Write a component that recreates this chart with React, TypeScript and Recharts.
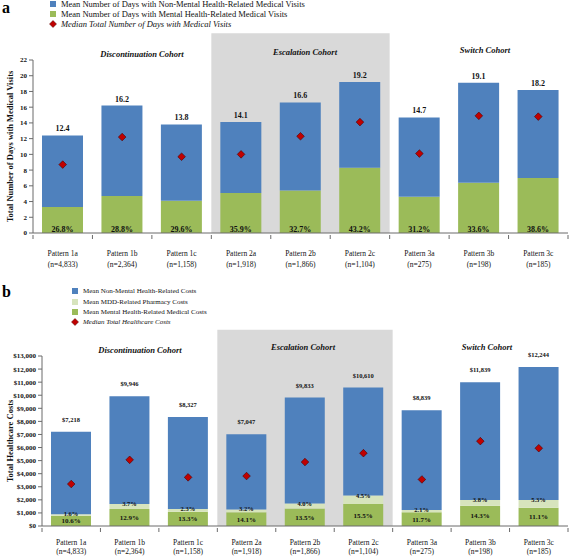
import React from 'react';
import { ComposedChart, Bar, Line, XAxis, YAxis, ReferenceArea, LabelList } from 'recharts';

const SERIF = '"Liberation Serif", "Times New Roman", serif';
const BLUE = '#4F81BD';
const GREEN = '#9BBB59';
const PALE = '#D7E4BD';
const RED = '#C00000';
const AXIS = '#6b6b6b';
const SHADE = '#D9D9D9';

const patterns = ['Pattern 1a', 'Pattern 1b', 'Pattern 1c', 'Pattern 2a', 'Pattern 2b', 'Pattern 2c', 'Pattern 3a', 'Pattern 3b', 'Pattern 3c'];
const sampleSizes = ['(n=4,833)', '(n=2,364)', '(n=1,158)', '(n=1,918)', '(n=1,866)', '(n=1,104)', '(n=275)', '(n=198)', '(n=185)'];

// panel a - days with medical visits
const visitTotals = ['12.4', '16.2', '13.8', '14.1', '16.6', '19.2', '14.7', '19.1', '18.2'];
const visitsMental = [3.3, 4.7, 4.1, 5.1, 5.4, 8.3, 4.6, 6.4, 7.0];
const visitsNonMental = [9.1, 11.5, 9.7, 9.0, 11.2, 10.9, 10.1, 12.7, 11.2];
const visitsMedian = [8.7, 12.2, 9.7, 10.0, 12.3, 14.1, 10.1, 14.9, 14.8];
const visitsMentalPct = ['26.8%', '28.8%', '29.6%', '35.9%', '32.7%', '43.2%', '31.2%', '33.6%', '38.6%'];
const dayTicks = [0, 2, 4, 6, 8, 10, 12, 14, 16, 18, 20, 22];

// panel b - healthcare costs
const costTotals = ['$7,218', '$9,946', '$8,327', '$7,047', '$9,833', '$10,610', '$8,839', '$11,839', '$12,244'];
const costMental = [790, 1300, 1090, 1050, 1330, 1680, 1050, 1550, 1400];
const costPharmacy = [100, 380, 210, 220, 390, 650, 170, 430, 580];
const costNonMental = [6310, 8240, 7040, 5750, 8100, 8260, 7630, 9020, 10180];
const costMedian = [3210, 5060, 3720, 3820, 4890, 5570, 3560, 6490, 5950];
const costMentalPct = ['10.6%', '12.9%', '13.3%', '14.1%', '13.5%', '15.5%', '11.7%', '14.3%', '11.1%'];
const costPharmacyPct = ['1.6%', '3.7%', '2.3%', '3.2%', '4.0%', '4.5%', '2.1%', '3.8%', '5.3%'];
const costTicks = [0, 1000, 2000, 3000, 4000, 5000, 6000, 7000, 8000, 9000, 10000, 11000, 12000, 13000];

const visitSeries = ['Mean Number of Days with Non-Mental Health-Related Medical Visits', 'Mean Number of Days with Mental Health-Related Medical Visits', 'Median Total Number of Days with Medical Visits'];
const costSeries = ['Mean Non-Mental Health-Related Costs', 'Mean MDD-Related Pharmacy Costs', 'Mean Mental Health-Related Medical Costs', 'Median Total Healthcare Costs'];

const visitsData = patterns.map((pattern, i) => ({
  pattern,
  mental: visitsMental[i],
  nonMental: visitsNonMental[i],
  median: visitsMedian[i],
  totalLabel: visitTotals[i],
  pctLabel: visitsMentalPct[i],
}));

const costData = patterns.map((pattern, i) => ({
  pattern,
  mental: costMental[i],
  pharmacy: costPharmacy[i],
  nonMental: costNonMental[i],
  median: costMedian[i],
  totalLabel: costTotals[i],
  mentalPct: costMentalPct[i],
  pharmacyPct: costPharmacyPct[i],
}));

const Diamond = (props: any) => {
  const { cx, cy } = props;
  if (cx == null || cy == null) return null;
  const r = 3.8;
  return (
    <path
      d={`M${cx},${cy - r} L${cx + r},${cy} L${cx},${cy + r} L${cx - r},${cy} Z`}
      fill={RED}
      stroke="#4a0000"
      strokeWidth={0.6}
    />
  );
};

const makeTick = (band: number, line1: number, line2: number) => (props: any) => {
  const { x, y, payload } = props;
  const idx = patterns.indexOf(payload.value);
  return (
    <g>
      <line x1={x - band / 2} x2={x - band / 2} y1={y} y2={y + 4} stroke={AXIS} />
      {idx === patterns.length - 1 && <line x1={x + band / 2} x2={x + band / 2} y1={y} y2={y + 4} stroke={AXIS} />}
      <text x={x} y={y + line1} textAnchor="middle" dominantBaseline="central" fontFamily={SERIF} fontSize={7.5} fill="#111">
        {payload.value}
      </text>
      <text x={x} y={y + line2} textAnchor="middle" dominantBaseline="central" fontFamily={SERIF} fontSize={7.5} fill="#111">
        {sampleSizes[idx]}
      </text>
    </g>
  );
};

const AxisTitle = (props: any) => {
  const { viewBox, value, dx } = props;
  const cx = viewBox.x + dx;
  const cy = viewBox.y + viewBox.height / 2;
  return (
    <text
      x={cx}
      y={cy}
      transform={`rotate(-90 ${cx} ${cy})`}
      textAnchor="middle"
      dominantBaseline="central"
      fontFamily={SERIF}
      fontWeight="bold"
      fontSize={8.5}
      fill="#111"
    >
      {value}
    </text>
  );
};

const tickStyle = { fontFamily: SERIF, fontWeight: 'bold' as const, fontSize: 7, fill: '#111' };
const labelStyle = { fontFamily: SERIF, fontWeight: 'bold', fill: '#111' };

const cohortStyle: React.CSSProperties = {
  position: 'absolute',
  transform: 'translate(-50%, -50%)',
  fontFamily: SERIF,
  fontWeight: 'bold',
  fontStyle: 'italic',
  fontSize: 8.5,
  whiteSpace: 'nowrap',
  color: '#111',
};

const panelLetter: React.CSSProperties = {
  position: 'absolute',
  left: 2,
  fontFamily: SERIF,
  fontWeight: 'bold',
  fontSize: 16,
  lineHeight: '16px',
};

const LegendRow = ({ top, left, fontSize, marker, label, italic }: any) => (
  <div style={{ position: 'absolute', top, left, display: 'flex', alignItems: 'center', height: 10, whiteSpace: 'nowrap' }}>
    <svg width={10} height={10} style={{ marginRight: 3 }}>
      {marker === 'diamond' ? (
        <path d="M5,1.5 L8.5,5 L5,8.5 L1.5,5 Z" fill={RED} stroke="#4a0000" strokeWidth={0.5} />
      ) : (
        <rect x={2} y={2} width={6} height={6} fill={marker} />
      )}
    </svg>
    <span style={{ fontFamily: SERIF, fontSize, fontStyle: italic ? 'italic' : 'normal', color: '#111' }}>{label}</span>
  </div>
);

const App: React.FC = () => {
  const bandA = 535 / patterns.length;
  const bandB = 526 / patterns.length;
  return (
    <div style={{ position: 'absolute', left: 0, top: 0, width: 569, height: 556, background: '#fff', overflow: 'hidden' }}>
      {/* panel a */}
      <div style={{ position: 'absolute', left: 0, top: 0 }}>
        <ComposedChart width={569} height={275} data={visitsData} margin={{ top: 60, right: 1, bottom: 2, left: 0 }}>
          <ReferenceArea x1="Pattern 2a" x2="Pattern 2c" y1={0} y2={25.4} ifOverflow="visible" fill={SHADE} fillOpacity={1} stroke="none" />
          <XAxis
            dataKey="pattern"
            height={40}
            interval={0}
            tickSize={0}
            tickLine={false}
            axisLine={{ stroke: AXIS }}
            tick={makeTick(bandA, 18, 29)}
          />
          <YAxis
            width={33}
            domain={[0, 22]}
            ticks={dayTicks}
            interval={0}
            tickSize={4}
            tick={tickStyle}
            axisLine={{ stroke: AXIS }}
            tickLine={{ stroke: AXIS }}
            label={<AxisTitle value="Total Number of Days with Medical Visits" dx={10} />}
          />
          <Bar dataKey="mental" name={visitSeries[1]} stackId="a" fill={GREEN} barSize={41} isAnimationActive={false}>
            <LabelList dataKey="pctLabel" position="insideBottom" offset={1} style={{ ...labelStyle, fontSize: 8 }} />
          </Bar>
          <Bar dataKey="nonMental" name={visitSeries[0]} stackId="a" fill={BLUE} barSize={41} isAnimationActive={false}>
            <LabelList dataKey="totalLabel" position="top" offset={4} style={{ ...labelStyle, fontSize: 8 }} />
          </Bar>
          <Line dataKey="median" name={visitSeries[2]} stroke="none" dot={<Diamond />} activeDot={false} isAnimationActive={false} />
        </ComposedChart>
      </div>
      <div style={{ ...panelLetter, top: 0 }}>a</div>
      <LegendRow top={-1} left={48} fontSize={8.5} marker={BLUE} label={visitSeries[0]} />
      <LegendRow top={9} left={48} fontSize={8.5} marker={GREEN} label={visitSeries[1]} />
      <LegendRow top={19} left={48} fontSize={8.5} marker="diamond" label={visitSeries[2]} italic />
      <div style={{ ...cohortStyle, left: 142, top: 54 }}>Discontinuation Cohort</div>
      <div style={{ ...cohortStyle, left: 305, top: 52 }}>Escalation Cohort</div>
      <div style={{ ...cohortStyle, left: 485, top: 50 }}>Switch Cohort</div>

      {/* panel b */}
      <div style={{ position: 'absolute', left: 0, top: 275 }}>
        <ComposedChart width={569} height={281} data={costData} margin={{ top: 81, right: 1, bottom: 0, left: 0 }}>
          <ReferenceArea x1="Pattern 2a" x2="Pattern 2c" y1={0} y2={15000} ifOverflow="visible" fill={SHADE} fillOpacity={1} stroke="none" />
          <XAxis
            dataKey="pattern"
            height={30}
            interval={0}
            tickSize={0}
            tickLine={false}
            axisLine={{ stroke: AXIS }}
            tick={makeTick(bandB, 14.5, 23.5)}
          />
          <YAxis
            width={42}
            domain={[0, 13000]}
            ticks={costTicks}
            interval={0}
            tickSize={4}
            tick={tickStyle}
            tickFormatter={(v: number) => `$${v.toLocaleString('en-US')}`}
            axisLine={{ stroke: AXIS }}
            tickLine={{ stroke: AXIS }}
            label={<AxisTitle value="Total Healthcare Costs" dx={10} />}
          />
          <Bar dataKey="mental" name={costSeries[2]} stackId="b" fill={GREEN} barSize={40} isAnimationActive={false}>
            <LabelList dataKey="mentalPct" position="center" style={{ ...labelStyle, fontSize: 7 }} />
          </Bar>
          <Bar dataKey="pharmacy" name={costSeries[1]} stackId="b" fill={PALE} barSize={40} isAnimationActive={false}>
            <LabelList dataKey="pharmacyPct" position="top" offset={-2} style={{ ...labelStyle, fontSize: 6.5 }} />
          </Bar>
          <Bar dataKey="nonMental" name={costSeries[0]} stackId="b" fill={BLUE} barSize={40} isAnimationActive={false}>
            <LabelList dataKey="totalLabel" position="top" offset={10} style={{ ...labelStyle, fontSize: 6.5 }} />
          </Bar>
          <Line dataKey="median" name={costSeries[3]} stroke="none" dot={<Diamond />} activeDot={false} isAnimationActive={false} />
        </ComposedChart>
      </div>
      <div style={{ ...panelLetter, top: 284 }}>b</div>
      <LegendRow top={286} left={70} fontSize={7} marker={BLUE} label={costSeries[0]} />
      <LegendRow top={297} left={70} fontSize={7} marker={PALE} label={costSeries[1]} />
      <LegendRow top={307} left={70} fontSize={7} marker={GREEN} label={costSeries[2]} />
      <LegendRow top={317} left={70} fontSize={7} marker="diamond" label={costSeries[3]} italic />
      <div style={{ ...cohortStyle, left: 140, top: 350 }}>Discontinuation Cohort</div>
      <div style={{ ...cohortStyle, left: 303, top: 347 }}>Escalation Cohort</div>
      <div style={{ ...cohortStyle, left: 487, top: 347 }}>Switch Cohort</div>
    </div>
  );
};

export default App;
